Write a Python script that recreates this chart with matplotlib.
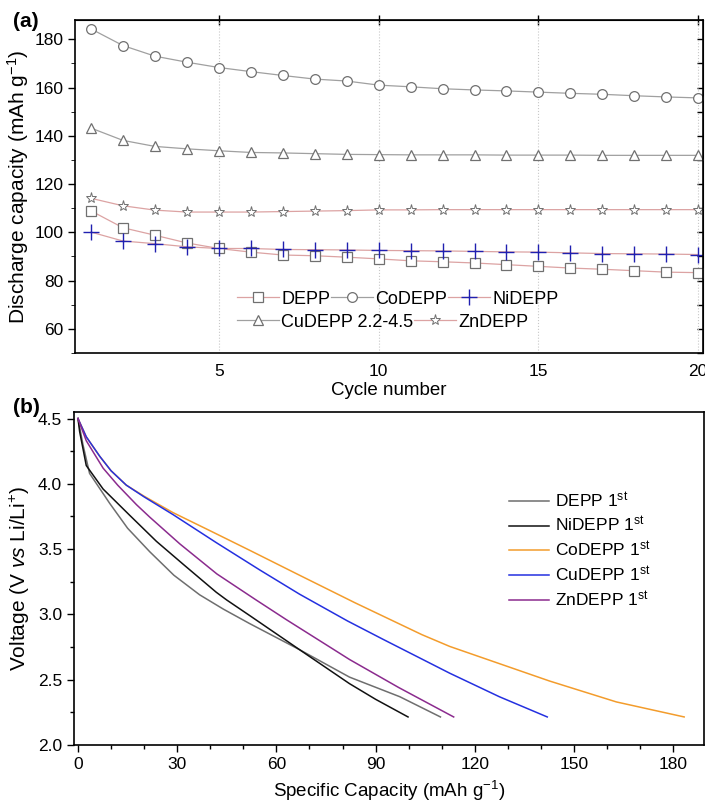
import matplotlib

matplotlib.use("Agg")
import matplotlib.pyplot as plt
from matplotlib.ticker import MultipleLocator

plt.rcParams["font.family"] = ["Liberation Sans", "DejaVu Sans"]
plt.rcParams["mathtext.fontset"] = "custom"
plt.rcParams["mathtext.rm"] = "Liberation Sans"
plt.rcParams["mathtext.it"] = "Liberation Sans:italic"

# (a) discharge capacity vs cycle
cycles = list(range(1, 21))
depp = [108.9, 101.9, 98.8, 95.6, 93.3, 91.8, 90.6, 90.3, 89.7, 89.0,
        88.2, 87.8, 87.3, 86.6, 85.9, 85.2, 84.7, 84.1, 83.5, 83.3]
codepp = [184.3, 177.4, 173.0, 170.5, 168.3, 166.6, 165.0, 163.5, 162.7, 161.0,
          160.3, 159.5, 159.0, 158.6, 158.1, 157.6, 157.2, 156.6, 156.1, 155.7]
nidepp = [100.1, 96.4, 95.3, 94.0, 93.3, 93.3, 92.9, 92.8, 92.7, 92.5,
          92.4, 92.3, 92.1, 91.9, 91.8, 91.5, 91.2, 91.1, 91.0, 90.8]
cudepp = [143.2, 138.1, 135.6, 134.6, 133.8, 133.1, 132.9, 132.6, 132.3, 132.2,
          132.1, 132.1, 132.1, 132.0, 132.0, 132.0, 131.9, 131.9, 131.9, 131.9]
zndepp = [114.1, 111.0, 109.2, 108.4, 108.4, 108.4, 108.6, 108.8, 109.0, 109.3,
          109.3, 109.4, 109.4, 109.4, 109.4, 109.4, 109.4, 109.4, 109.4, 109.4]

# (b) first discharge curves: capacity (mAh/g), voltage (V)
depp_q = [0, 1.5, 3.5, 9.6, 15, 21.7, 29, 36.8, 44, 51.9, 67, 82.1, 97.3, 109.6]
depp_v = [4.5, 4.3, 4.08, 3.85, 3.66, 3.48, 3.30, 3.15, 3.04, 2.93, 2.73, 2.52, 2.37, 2.215]
ni_q = [0, 0.5, 2.5, 7.6, 15.6, 23.7, 32, 41.8, 45, 52, 67, 82.1, 90, 99.8]
ni_v = [4.5, 4.4, 4.14, 3.96, 3.76, 3.56, 3.38, 3.17, 3.11, 2.99, 2.73, 2.47, 2.35, 2.215]
co_q = [0, 2.5, 6.6, 10, 14.6, 20, 28.7, 40, 52, 67, 83.7, 104, 112.4, 142.6, 162.8, 183.3]
co_v = [4.5, 4.36, 4.21, 4.10, 3.99, 3.905, 3.78, 3.64, 3.49, 3.30, 3.09, 2.845, 2.755, 2.49,
        2.33, 2.215]
cu_q = [0, 2.5, 6.6, 10, 14.6, 20, 28.7, 41.8, 55, 67, 81.5, 92.2, 112.4, 127.4, 141.9]
cu_v = [4.5, 4.36, 4.21, 4.10, 3.99, 3.90, 3.765, 3.55, 3.34, 3.155, 2.95, 2.81, 2.55, 2.37,
        2.215]
zn_q = [0, 2.5, 7.6, 12, 17.7, 21.7, 30.8, 42, 53.9, 63, 77.1, 82.1, 97, 113.6]
zn_v = [4.5, 4.33, 4.12, 3.99, 3.84, 3.745, 3.54, 3.31, 3.11, 2.96, 2.735, 2.655, 2.44, 2.215]

pink = "#dca3a3"
gline = "#a0a0a0"
medge = "#707070"

fig = plt.figure(figsize=(7.05, 8.05), dpi=100)
ax1 = fig.add_axes([0.1064, 0.5615, 0.8908, 0.4137])
ax2 = fig.add_axes([0.105, 0.0745, 0.8936, 0.4137])

mk = dict(markersize=7, markerfacecolor="white", markeredgecolor=medge, markeredgewidth=0.9, linewidth=0.9)
h_depp, = ax1.plot(cycles, depp, color=pink, marker="s", **mk)
h_co, = ax1.plot(cycles, codepp, color=gline, marker="o", **mk)
h_ni, = ax1.plot(cycles, nidepp, color=pink, marker="+", markersize=11, markeredgecolor="#2020b0",
                 markeredgewidth=1.0, linewidth=0.9)
h_cu, = ax1.plot(cycles, cudepp, color=gline, marker="^", **mk)
h_zn, = ax1.plot(cycles, zndepp, color=pink, marker="*", markersize=8, markerfacecolor="white",
                 markeredgecolor=medge, markeredgewidth=0.7, linewidth=0.9)

ax1.set_xlim(0.5, 20.15)
ax1.set_ylim(50, 188)
ax1.set_xticks([5, 10, 15, 20])
ax1.set_yticks(range(60, 181, 20))
ax1.yaxis.set_minor_locator(MultipleLocator(10))
ax1.grid(axis="x", color="#c8c8c8", linestyle=":", linewidth=0.8)
ax1.tick_params(axis="both", labelsize=12.5, width=1.0)
ax1.tick_params(axis="y", which="major", direction="out", length=5, right=False)
ax1.tick_params(axis="y", which="minor", direction="out", length=3, right=False)
ax1.tick_params(axis="x", which="major", bottom=True, length=0, pad=8)
ax1.set_xlabel("Cycle number", fontsize=13.5, labelpad=2)
ax1.set_ylabel("Discharge capacity (mAh g$^{-1}$)", fontsize=15, labelpad=2)
for side in ["left", "bottom", "top", "right"]:
    ax1.spines[side].set_linewidth(1.2)

# ticks drawn on top/right as in the original (crossing / inward)
sec_top = ax1.secondary_xaxis("top")
sec_top.set_xticks([5, 10, 15, 20])
sec_top.tick_params(direction="inout", length=7, labeltop=False, width=1.0)
sec_right = ax1.secondary_yaxis("right")
sec_right.set_yticks(range(60, 181, 20))
sec_right.yaxis.set_minor_locator(MultipleLocator(10))
sec_right.tick_params(which="both", direction="in", length=4, labelright=False, width=1.0)

leg_kw = dict(frameon=False, fontsize=13, handlelength=2.3, handletextpad=0.15, columnspacing=0.05,
              borderpad=0, borderaxespad=0, loc="center left")
leg1 = ax1.legend([h_depp, h_co, h_ni], ["DEPP", "CoDEPP", "NiDEPP"], ncol=3,
                  bbox_to_anchor=(0.258, 0.162), **leg_kw)
ax1.add_artist(leg1)
ax1.legend([h_cu, h_zn], ["CuDEPP 2.2-4.5", "ZnDEPP"], ncol=2,
           bbox_to_anchor=(0.258, 0.093), **leg_kw)

# (b)
lw = 1.1
ax2.plot(depp_q, depp_v, color="#6e6e6e", linewidth=lw, label="DEPP 1$^{\\mathrm{st}}$")
ax2.plot(ni_q, ni_v, color="#111111", linewidth=lw, label="NiDEPP 1$^{\\mathrm{st}}$")
ax2.plot(co_q, co_v, color="#f39c2c", linewidth=lw, label="CoDEPP 1$^{\\mathrm{st}}$")
ax2.plot(cu_q, cu_v, color="#2430e0", linewidth=lw, label="CuDEPP 1$^{\\mathrm{st}}$")
ax2.plot(zn_q, zn_v, color="#8b2b8e", linewidth=lw, label="ZnDEPP 1$^{\\mathrm{st}}$")

ax2.set_xlim(-1.2, 189.3)
ax2.set_ylim(2.0, 4.55)
ax2.set_xticks(range(0, 181, 30))
ax2.xaxis.set_minor_locator(MultipleLocator(10))
ax2.set_yticks([2.0, 2.5, 3.0, 3.5, 4.0, 4.5])
ax2.yaxis.set_minor_locator(MultipleLocator(0.25))
ax2.tick_params(axis="both", which="major", direction="out", length=5, width=1.0, labelsize=12.5)
ax2.tick_params(axis="both", which="minor", direction="out", length=3, width=1.0)
ax2.set_xlabel("Specific Capacity (mAh g$^{-1}$)", fontsize=13.5, labelpad=5)
ax2.set_ylabel("Voltage (V $\\it{vs}$ Li/Li$^{+}$)", fontsize=15, labelpad=4)
for side in ["left", "bottom", "top", "right"]:
    ax2.spines[side].set_linewidth(1.2)
ax2.legend(frameon=False, fontsize=12.5, handlelength=2.3, handletextpad=0.35, labelspacing=0.3,
           borderpad=0, borderaxespad=0, loc="upper left", bbox_to_anchor=(0.69, 0.765))

fig.text(0.018, 0.967, "(a)", fontsize=15, fontweight="bold")
fig.text(0.018, 0.487, "(b)", fontsize=15, fontweight="bold")

fig.savefig("out.png", dpi=100)
